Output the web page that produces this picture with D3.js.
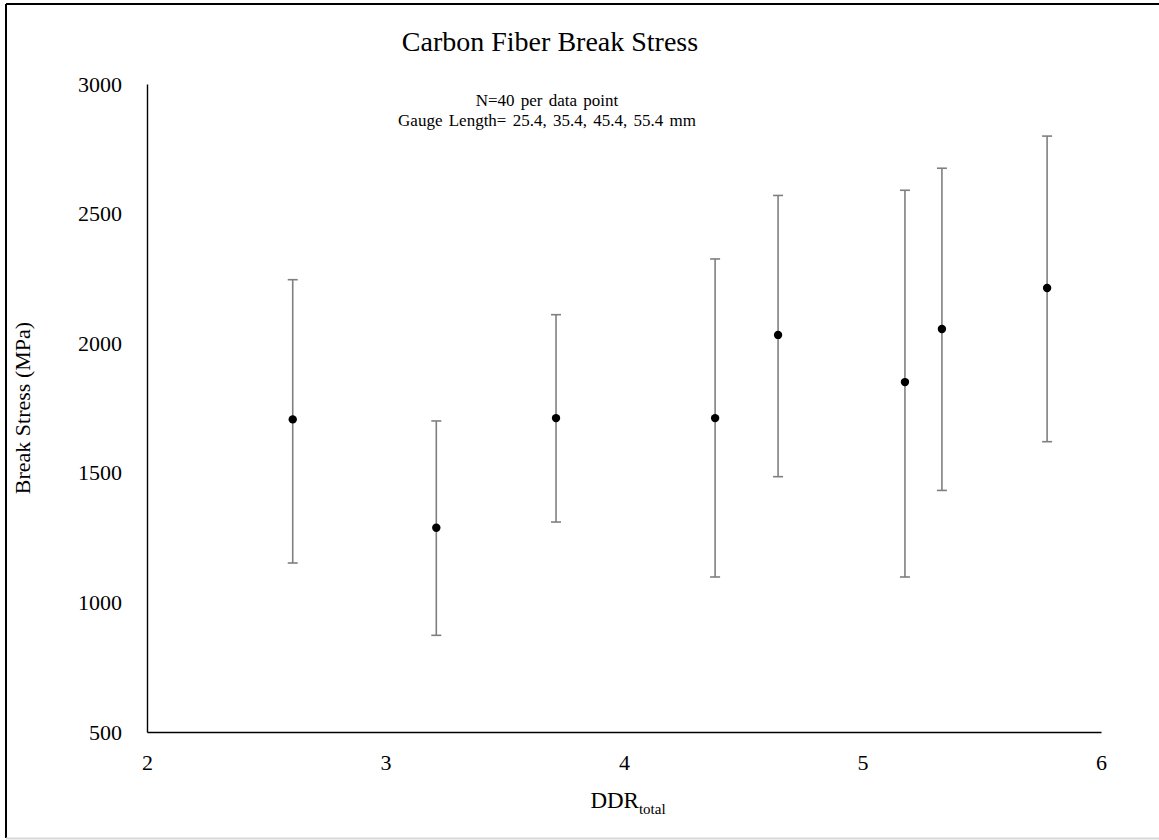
<!DOCTYPE html>
<html>
<head>
<meta charset="utf-8">
<script src="https://cdn.jsdelivr.net/npm/d3@7"></script>
<style>
  html, body { margin: 0; padding: 0; background: #fff; }
  svg { display: block; }
</style>
</head>
<body>
<svg id="chart"></svg>
<script>
// data
const ddr = [2.611, 3.213, 3.715, 4.382, 4.646, 5.178, 5.333, 5.774];
const stress = [1706, 1288, 1711, 1711, 2032, 1850, 2055, 2213];
const upper = [2245, 1700, 2110, 2325, 2570, 2590, 2675, 2799];
const lower = [1152, 873, 1310, 1098, 1485, 1098, 1432, 1620];
const xTicks = [2, 3, 4, 5, 6];
const yTicks = [500, 1000, 1500, 2000, 2500, 3000];
const notes = ["N=40 per data point", "Gauge Length= 25.4, 35.4, 45.4, 55.4 mm"];

const width = 1159, height = 840;
const margin = { top: 84, right: 58, bottom: 108, left: 147 };
const font = "'Liberation Serif', 'Times New Roman', serif";

const svg = d3.select("#chart").attr("width", width).attr("height", height);

// frame
svg.append("line").attr("x1", 6).attr("y1", 4).attr("x2", width).attr("y2", 4)
    .style("stroke", "#000").style("stroke-width", 2);
svg.append("line").attr("x1", 6).attr("y1", 4).attr("x2", 6).attr("y2", 838)
    .style("stroke", "#000").style("stroke-width", 2);
svg.append("line").attr("x1", 6).attr("y1", 838.5).attr("x2", width).attr("y2", 838.5)
    .style("stroke", "#d9d9d9").style("stroke-width", 2);

const x = d3.scaleLinear().domain([2, 6]).range([margin.left, width - margin.right]);
const y = d3.scaleLinear().domain([500, 3000]).range([height - margin.bottom, margin.top]);

// axes
const xAxis = svg.append("g")
    .attr("transform", `translate(0,${y(500)})`)
    .call(d3.axisBottom(x).tickValues(xTicks).tickSize(0).tickPadding(22).tickFormat(d3.format("d")));
const yAxis = svg.append("g")
    .attr("transform", `translate(${x(2)},0)`)
    .call(d3.axisLeft(y).tickValues(yTicks).tickSize(0).tickPadding(25).tickFormat(d3.format("d")));

[xAxis, yAxis].forEach(g => {
    g.select(".domain").style("stroke", "#000").style("stroke-width", 1.4);
    g.selectAll("text").style("font-family", font).style("font-size", "22px").style("fill", "#000");
});

// error bars
const bars = svg.append("g");
const idx = d3.range(ddr.length);
bars.selectAll("line.v").data(idx).enter().append("line")
    .attr("x1", i => x(ddr[i])).attr("x2", i => x(ddr[i]))
    .attr("y1", i => y(upper[i])).attr("y2", i => y(lower[i]))
    .style("stroke", "#7f7f7f").style("stroke-width", 1.6);
[upper, lower].forEach(arr => {
    bars.selectAll(null).data(idx).enter().append("line")
        .attr("x1", i => x(ddr[i]) - 5).attr("x2", i => x(ddr[i]) + 5)
        .attr("y1", i => y(arr[i])).attr("y2", i => y(arr[i]))
        .style("stroke", "#7f7f7f").style("stroke-width", 1.6);
});

// points
svg.append("g").selectAll("circle").data(idx).enter().append("circle")
    .attr("cx", i => x(ddr[i])).attr("cy", i => y(stress[i]))
    .attr("r", 4.2).attr("fill", "#000");

// title
svg.append("text")
    .attr("x", 550).attr("y", 51)
    .attr("text-anchor", "middle")
    .style("font-family", font).style("font-size", "28px")
    .text("Carbon Fiber Break Stress");

// notes
svg.append("g").selectAll("text").data(notes).enter().append("text")
    .attr("x", 547).attr("y", (d, i) => 106 + i * 20)
    .attr("text-anchor", "middle")
    .style("font-family", font).style("font-size", "17px")
    .style("word-spacing", "2px")
    .text(d => d);

// axis titles
const xt = svg.append("text")
    .attr("x", x(4) + 4).attr("y", 808)
    .attr("text-anchor", "middle")
    .style("font-family", font).style("font-size", "23px");
xt.append("tspan").text("DDR");
xt.append("tspan").attr("dy", 6).style("font-size", "15px").text("total");

svg.append("text")
    .attr("transform", `translate(30,${y(1750)}) rotate(-90)`)
    .attr("text-anchor", "middle")
    .style("font-family", font).style("font-size", "22px")
    .text("Break Stress (MPa)");
</script>
</body>
</html>
